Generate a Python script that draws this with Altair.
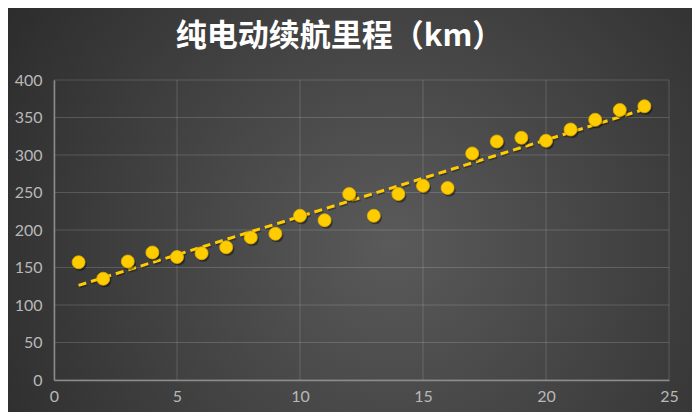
import altair as alt
import pandas as pd

# data
xs = [1, 2, 3, 4, 5, 6, 7, 8, 9, 10, 11, 12, 13, 14, 15, 16, 17, 18, 19, 20, 21, 22, 23, 24]
ys = [157, 135, 158, 170, 164, 169, 177, 190, 195, 219, 213, 248,
      219, 248, 259, 256, 302, 318, 323, 319, 334, 347, 360, 365]
x_ticks = [0, 5, 10, 15, 20, 25]
y_ticks = [0, 50, 100, 150, 200, 250, 300, 350, 400]
title_text = "纯电动续航里程（km）"

df = pd.DataFrame({"x": xs, "y": ys})
xgrid = pd.DataFrame({"v": x_ticks})
ygrid = pd.DataFrame({"v": y_ticks})
bgdf = pd.DataFrame({"a": [0]})

W, H = 615, 300
PL, PT, PR, PB = 46, 72, 23, 32
YELLOW = "#FFCC00"

xscale = alt.Scale(domain=[0, 25], nice=False)
yscale = alt.Scale(domain=[0, 400], nice=False)

xaxis = alt.Axis(values=x_ticks, title=None, grid=False, ticks=False,
                 labelPadding=8, labelFlush=False, zindex=1)
yaxis = alt.Axis(values=y_ticks, title=None, grid=False, ticks=False,
                 labelPadding=12, labelFlush=False, zindex=1)

gradient = alt.RadialGradient(
    gradient="radial", x1=0.56, y1=0.55, x2=0.56, y2=0.55, r1=0, r2=0.72,
    stops=[alt.GradientStop(offset=0, color="#5a5a5a"),
           alt.GradientStop(offset=1, color="#282828")])

bg = alt.Chart(bgdf).mark_rect(fill=gradient, stroke=None).encode(
    x=alt.value(-PL), x2=alt.value(W + PR),
    y=alt.value(-PT), y2=alt.value(H + PB))

vgrid = alt.Chart(xgrid).mark_rule(color="#ffffff", opacity=0.16, strokeWidth=1).encode(
    x=alt.X("v:Q", scale=xscale, axis=xaxis))
hgrid = alt.Chart(ygrid).mark_rule(color="#ffffff", opacity=0.16, strokeWidth=1).encode(
    y=alt.Y("v:Q", scale=yscale, axis=yaxis))

base = alt.Chart(df)

trend_shadow = base.transform_regression("x", "y").mark_line(
    color="#000000", opacity=0.3, strokeWidth=3, strokeDash=[8, 5],
    xOffset=1, yOffset=1.5).encode(
    x=alt.X("x:Q", scale=xscale, axis=xaxis),
    y=alt.Y("y:Q", scale=yscale, axis=yaxis))

trend = base.transform_regression("x", "y").mark_line(
    color=YELLOW, strokeWidth=3, strokeDash=[8, 5]).encode(
    x=alt.X("x:Q", scale=xscale, axis=xaxis),
    y=alt.Y("y:Q", scale=yscale, axis=yaxis))

pt_shadow = base.mark_circle(color="#000000", opacity=0.4, size=175,
                             xOffset=1.5, yOffset=2).encode(
    x=alt.X("x:Q", scale=xscale, axis=xaxis),
    y=alt.Y("y:Q", scale=yscale, axis=yaxis))

points = base.mark_circle(color=YELLOW, opacity=1, size=170,
                          stroke="#e0b000", strokeWidth=0.8).encode(
    x=alt.X("x:Q", scale=xscale, axis=xaxis),
    y=alt.Y("y:Q", scale=yscale, axis=yaxis))

chart = alt.layer(bg, vgrid, hgrid, trend_shadow, trend, pt_shadow, points).properties(
    width=W, height=H,
    autosize=alt.AutoSizeParams(type="none"),
    padding={"left": PL, "top": PT, "right": PR, "bottom": PB},
    background="#2e2e2e",
    title=alt.TitleParams(title_text, font="Noto Sans CJK SC", fontSize=31,
                          fontWeight="bold", color="#ffffff", anchor="middle",
                          frame="group", dx=-22, offset=0, dy=45),
).configure_view(strokeWidth=0).configure_axis(
    labelColor="#b8b8b8", labelFont="Lato", labelFontSize=16,
    domainColor="#8c8c8c", domainWidth=1.5)

chart.save("out.html", embed_options={"renderer": "svg", "actions": False})
